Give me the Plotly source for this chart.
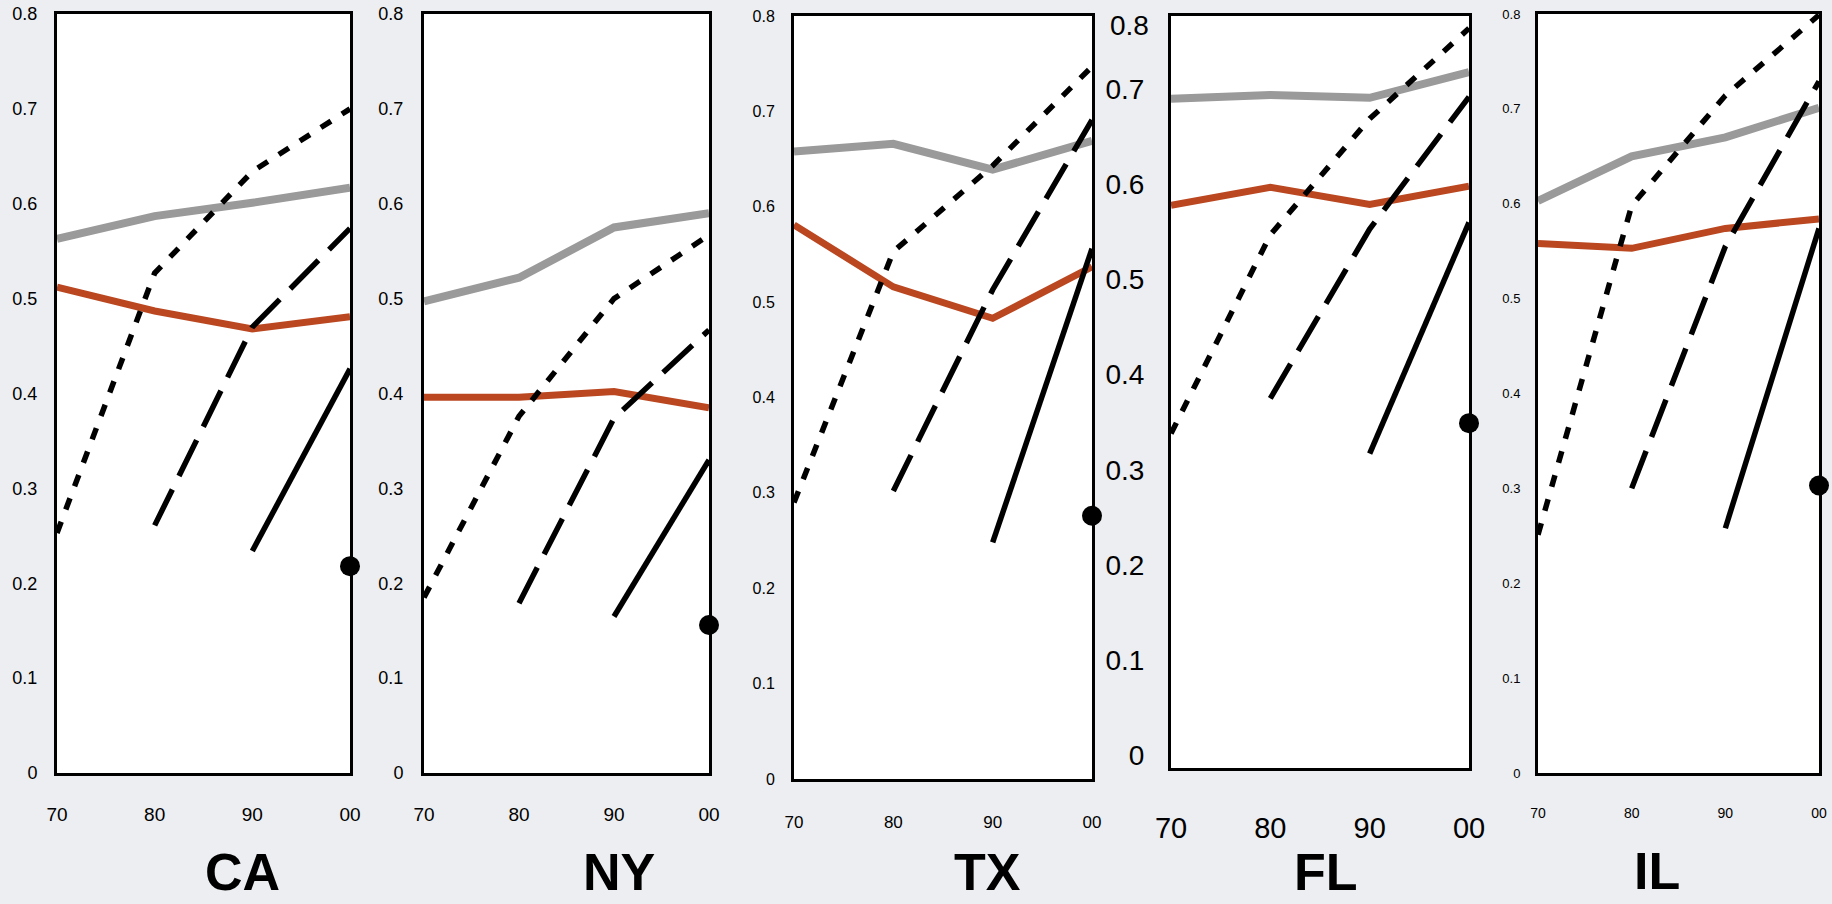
import plotly.graph_objects as go

# ---------------- data ----------------
decades = ["70", "80", "90", "00"]
states = ["CA", "NY", "TX", "FL", "IL"]
y_ticks = ["0", "0.1", "0.2", "0.3", "0.4", "0.5", "0.6", "0.7", "0.8"]
y_tickvals = [0, 0.1, 0.2, 0.3, 0.4, 0.5, 0.6, 0.7, 0.8]

# grey line (per state, values at 70, 80, 90, 00)
gray_series = [
    [0.563, 0.587, 0.601, 0.617],   # CA
    [0.497, 0.522, 0.575, 0.590],   # NY
    [0.658, 0.666, 0.639, 0.669],   # TX
    [0.690, 0.694, 0.691, 0.718],   # FL
    [0.603, 0.650, 0.670, 0.701],   # IL
]
# red line
red_series = [
    [0.512, 0.487, 0.468, 0.481],
    [0.396, 0.396, 0.402, 0.385],
    [0.581, 0.516, 0.483, 0.537],
    [0.578, 0.597, 0.579, 0.598],
    [0.558, 0.553, 0.574, 0.584],
]
# cohort starting 1970 (short dashes)
cohort70 = [
    [0.253, 0.527, 0.634, 0.700],
    [0.185, 0.376, 0.500, 0.567],
    [0.290, 0.553, 0.643, 0.747],
    [0.338, 0.547, 0.669, 0.764],
    [0.251, 0.598, 0.714, 0.799],
]
# cohort starting 1980 (long dashes)
cohort80 = [
    [None, 0.261, 0.470, 0.574],
    [None, 0.179, 0.374, 0.467],
    [None, 0.302, 0.513, 0.691],
    [None, 0.375, 0.553, 0.692],
    [None, 0.300, 0.555, 0.729],
]
# cohort starting 1990 (solid)
cohort90 = [
    [None, None, 0.234, 0.426],
    [None, None, 0.165, 0.330],
    [None, None, 0.248, 0.556],
    [None, None, 0.317, 0.560],
    [None, None, 0.258, 0.574],
]
# cohort 2000 (single dot)
cohort00 = [0.218, 0.156, 0.276, 0.349, 0.303]

# ---------------- layout (pixels of the 1832x904 frame) ----------------
W, H = 1832, 904
boxes = [  # left, right, top, bottom
    (57, 350, 14, 773),
    (424, 709, 14, 773),
    (794, 1092, 16, 779),
    (1171, 1469, 16, 768),
    (1538, 1819, 14, 773),
]
tick_font = [18, 18, 16, 28, 13]
ylab_standoff = [13, 14, 13, 18, 12]
xlab_standoff = [22, 22, 26, 32, 25]
y_ranges = [[0, 0.8], [0, 0.8], [0, 0.8], [-0.0135, 0.777], [0, 0.8]]
title_pos = [(242, 872), (619, 872), (987, 872), (1326, 872), (1657, 871)]

GRAY = "#9a9a9a"
RED = "#ba4720"
FONT = "Liberation Sans, Arial, sans-serif"

xs = list(range(len(decades)))
fig = go.Figure()
layout = {}
for i, st in enumerate(states):
    n = "" if i == 0 else str(i + 1)
    xa, ya = "x" + n, "y" + n
    l, r, t, b = boxes[i]
    fig.add_trace(go.Scatter(x=xs, y=gray_series[i], mode="lines", xaxis=xa, yaxis=ya,
                             line=dict(color=GRAY, width=8), showlegend=False))
    fig.add_trace(go.Scatter(x=xs, y=red_series[i], mode="lines", xaxis=xa, yaxis=ya,
                             line=dict(color=RED, width=7), showlegend=False))
    fig.add_trace(go.Scatter(x=xs, y=cohort70[i], mode="lines", xaxis=xa, yaxis=ya,
                             line=dict(color="black", width=5.5, dash="12px,13px"), showlegend=False))
    fig.add_trace(go.Scatter(x=xs, y=cohort80[i], mode="lines", xaxis=xa, yaxis=ya,
                             line=dict(color="black", width=5.5, dash="40px,15px"), showlegend=False))
    fig.add_trace(go.Scatter(x=xs, y=cohort90[i], mode="lines", xaxis=xa, yaxis=ya,
                             line=dict(color="black", width=5.5), showlegend=False))
    fig.add_trace(go.Scatter(x=[xs[-1]], y=[cohort00[i]], mode="markers", xaxis=xa, yaxis=ya,
                             marker=dict(color="black", size=20), cliponaxis=False, showlegend=False))

    if i == 3:
        yvals, ytxt = y_tickvals[:-1], y_ticks[:-1]
    else:
        yvals, ytxt = y_tickvals, y_ticks
    layout["xaxis" + n] = dict(
        domain=[l / W, r / W], anchor=ya, range=[0, 3], automargin=False,
        tickvals=xs, ticktext=decades, ticks="", showgrid=False, zeroline=False,
        showline=True, mirror=True, linecolor="black", linewidth=3,
        tickfont=dict(family=FONT, size=tick_font[i] + 1, color="black"),
        ticklabelstandoff=xlab_standoff[i], fixedrange=True,
    )
    layout["yaxis" + n] = dict(
        domain=[1 - b / H, 1 - t / H], anchor=xa, range=y_ranges[i], automargin=False,
        tickvals=yvals, ticktext=ytxt, ticks="", showgrid=False, zeroline=False,
        showline=True, mirror=True, linecolor="black", linewidth=3,
        tickfont=dict(family=FONT, size=tick_font[i], color="black"),
        ticklabelstandoff=ylab_standoff[i], fixedrange=True,
    )

annotations = []
for i, st in enumerate(states):
    tx, ty = title_pos[i]
    annotations.append(dict(text="<b>%s</b>" % st, x=tx / W, y=1 - ty / H, xref="paper", yref="paper",
                            xanchor="center", yanchor="middle", showarrow=False,
                            font=dict(family=FONT, size=52, color="black")))
# FL top tick label sits inside the top edge in the original
annotations.append(dict(text="0.8", x=1151 / W, y=1 - 26 / H, xref="paper", yref="paper",
                        xanchor="right", yanchor="middle", showarrow=False,
                        font=dict(family=FONT, size=28, color="black")))

fig.update_layout(
    width=W, height=H, margin=dict(l=0, r=0, t=0, b=0, autoexpand=False),
    paper_bgcolor="#eceef1", plot_bgcolor="white",
    annotations=annotations, **layout,
)
fig.write_html(
    "out.html",
    config={"displayModeBar": False},
    post_script="document.body.style.margin='0';document.body.style.overflow='hidden';"
                "document.documentElement.style.overflow='hidden';",
)
